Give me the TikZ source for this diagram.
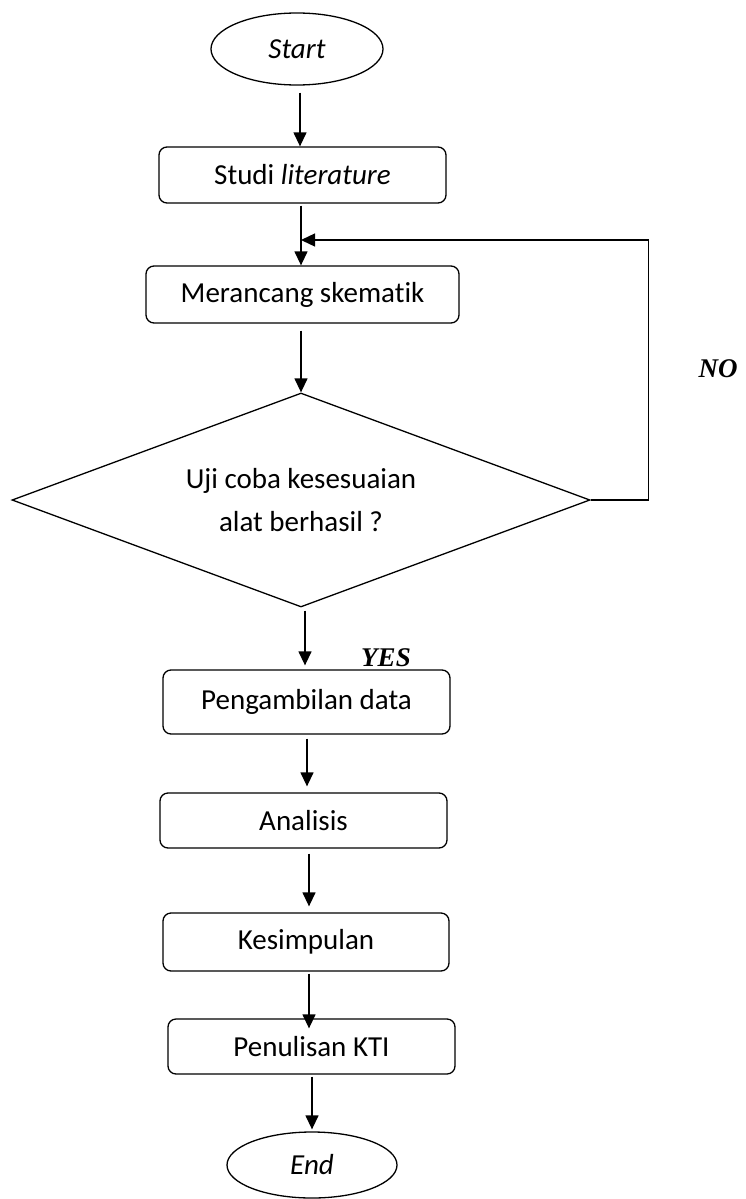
\documentclass[tikz,border=0pt]{standalone}
\usepackage{fontspec}
\setmainfont{Carlito}[Ligatures=NoCommon]
\newfontfamily\yesnofont{Liberation Serif}
\usetikzlibrary{shapes.geometric,arrows.meta}

\begin{document}
\begin{tikzpicture}[x=1pt,y=-1pt,line width=1.3pt,
  every node/.style={font={\fontsize{29}{43}\selectfont}},
  box/.style={draw,rounded corners=8pt,minimum width=287pt,inner sep=0pt},
  oval/.style={draw,ellipse,inner sep=0pt},
  arr/.style={-{Triangle[length=14pt,width=13pt]}},
  yesno/.style={font={\yesnofont\bfseries\itshape\fontsize{27}{30}\selectfont}}]
  \useasboundingbox (0,0) rectangle (745,1199);

  % ---- Mulai dan perancangan ----
  \node[oval, minimum width=172pt, minimum height=72pt] (mulai) at (297,49) {\textit{Start}};
  \node[box, minimum height=56pt] (studi) at (302.5,175) {Studi \textit{literature}};
  \node[box, minimum width=313pt, minimum height=57pt] (rancang) at (302.5,294.5) {Merancang skematik};

  % ---- Keputusan ----
  \node[draw, diamond, aspect=2.7, minimum width=578pt, minimum height=214pt,
        inner sep=0pt, align=center] (uji) at (301,500) {Uji coba kesesuaian\\alat berhasil ?};
  \coordinate (gabung) at (301,240);
  \node[yesno] (tidak) at (718,369) {NO};
  \node[yesno] (ya) at (386,658) {YES};

  % ---- Pengolahan dan akhir ----
  \node[box, minimum height=64pt] (ambil) at (306.5,702) {Pengambilan data};
  \node[box, minimum height=55pt] (analisis) at (303.5,820.5) {Analisis};
  \node[box, minimum width=286pt, minimum height=58pt] (simpul) at (306,942) {Kesimpulan};
  \node[box, minimum height=55pt] (tulis) at (311.5,1046.5) {Penulisan KTI};
  \node[oval, minimum width=170pt, minimum height=66pt] (akhir) at (312,1165) {\textit{End}};

  % Panah
  \draw[arr, shorten <=7pt] (mulai.south -| 300,0) -- (studi.north -| 300,0);
  \draw[arr, shorten <=2pt] (studi.south -| uji.north) -- (rancang.north -| uji.north);
  \draw[arr, shorten <=7pt] (rancang.south -| uji.north) -- (uji.north);
  \draw[arr, shorten <=3pt, shorten >=4pt] (uji.south -| 305,0) -- (ambil.north -| 305,0);
  \draw[arr, shorten <=4pt, shorten >=6pt] (ambil.south -| 307,0) -- (analisis.north -| 307,0);
  \draw[arr, shorten <=5pt, shorten >=6pt] (analisis.south -| 309,0) -- (simpul.north -| 309,0);
  \draw[arr, shorten <=2pt, shorten >=-10pt] (simpul.south -| 309,0) -- (tulis.north -| 309,0);
  \draw[arr, shorten <=2pt, shorten >=2pt] (tulis.south -| akhir.north) -- (akhir.north);
  \draw[arr] (uji.east) -- ++(58,0) |- (gabung);
\end{tikzpicture}
\end{document}
